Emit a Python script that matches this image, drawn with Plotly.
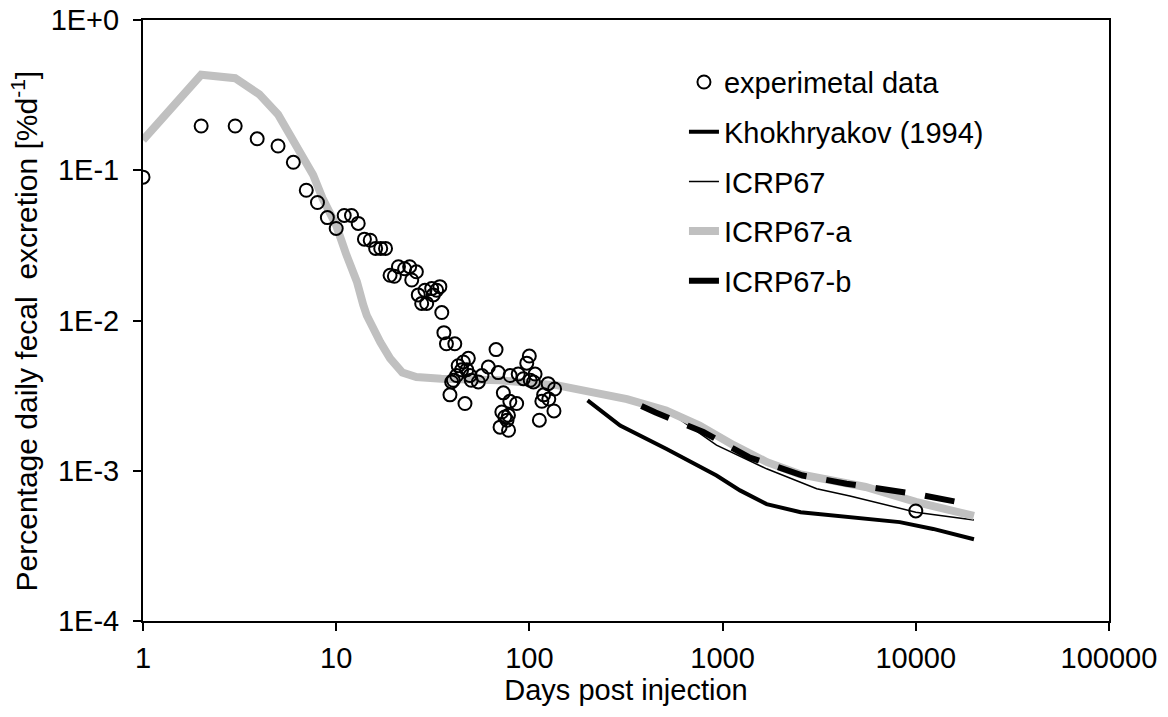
import plotly.graph_objects as go

# Experimental data
exp_days = [1, 2, 3, 3.9, 5, 6, 7, 8, 9, 10, 11, 12, 13, 14, 15, 16, 17, 18, 19, 20,
            21, 22.6, 24, 24.6, 26, 26.6, 27.7, 28.8, 29.4, 31.2, 31.8, 33.1, 34.4, 35.2,
            36.1, 37.2, 38.8, 39.6, 40.4, 41.1, 42.0, 42.8, 44.6, 45.5, 46.4, 47.4, 48.3,
            49.3, 50, 54.4, 56.8, 61.3, 67.2, 69.0, 70.5, 72, 73.3, 74.6, 76.6, 77.9, 78,
            79.2, 79.5, 85.9, 87.5, 93, 96.9, 99.9, 101, 105, 107, 112.6, 116, 118.5, 125,
            126, 134, 135, 10000]
exp_vals = [0.09, 0.197, 0.197, 0.162, 0.145, 0.113, 0.0736, 0.061, 0.0484, 0.041, 0.05,
            0.05, 0.0443, 0.0348, 0.0342, 0.0302, 0.0302, 0.0302, 0.020, 0.0197,
            0.0228, 0.0221, 0.0228, 0.0186, 0.0211, 0.0148, 0.013, 0.0159, 0.013, 0.0163,
            0.0148, 0.0159, 0.0168, 0.0113, 0.0083, 0.0070, 0.0032, 0.0039, 0.0040,
            0.0070, 0.0043, 0.0050, 0.0047, 0.0053, 0.0028, 0.0047, 0.0056, 0.0043,
            0.0040, 0.0039, 0.0043, 0.0049, 0.0064, 0.0045, 0.00195, 0.00246, 0.0033,
            0.00228, 0.00217, 0.00234, 0.00186, 0.0029, 0.0043, 0.0028, 0.0044, 0.0041,
            0.0052, 0.0058, 0.0040, 0.0039, 0.0044, 0.00217, 0.0029, 0.0032, 0.0038,
            0.0030, 0.0025, 0.0035, 0.00054]

# Khokhryakov (1994)
kh_days = [200, 295, 510, 930, 1230, 1690, 2535, 4560, 8260, 12300, 20000]
kh_vals = [0.00294, 0.0020, 0.0014, 0.00093, 0.00074, 0.00060, 0.00053, 0.00049,
           0.000455, 0.00041, 0.00035]

# ICRP67
icrp_days = [600, 930, 1690, 3070, 4560, 10000, 20000]
icrp_vals = [0.0022, 0.00148, 0.00103, 0.00076, 0.00068, 0.00053, 0.00047]

# ICRP67-a
a_days = [1, 2, 3, 4, 5, 6, 7, 7.6, 8.5, 9.3, 10, 11.3, 12.8, 13.8, 14.4, 16.9, 19, 22,
          26, 35, 70, 140, 230, 320, 510, 760, 1140, 1700, 2500, 4200, 5500, 10000, 20000]
a_vals = [0.159, 0.432, 0.41, 0.32, 0.235, 0.16, 0.115, 0.093, 0.065, 0.052, 0.043,
          0.0273, 0.0181, 0.0127, 0.0108, 0.0072, 0.0056, 0.0045, 0.0042, 0.0041,
          0.0040, 0.0037, 0.0033, 0.0030, 0.00252, 0.0020, 0.00148, 0.00114, 0.00095,
          0.00082, 0.00078, 0.00062, 0.00050]

# ICRP67-b
b_days = [380, 450, 795, 1370, 2600, 4380, 10000, 20000]
b_vals = [0.0027, 0.00244, 0.00181, 0.00123, 0.00093, 0.00082, 0.00070, 0.00059]

x_ticks = [1, 10, 100, 1000, 10000, 100000]
x_ticktext = ["1", "10", "100", "1000", "10000", "100000"]
y_ticks = [1e-4, 1e-3, 1e-2, 1e-1, 1]
y_ticktext = ["1E-4", "1E-3", "1E-2", "1E-1", "1E+0"]
y_title = "Percentage daily fecal  excretion [%d<sup>-1</sup>]"

FONT = "Liberation Sans, Arial, sans-serif"

fig = go.Figure()
fig.add_trace(go.Scatter(x=kh_days, y=kh_vals, mode="lines", name="Khokhryakov (1994)",
                         line=dict(color="black", width=4), legendgroup="g2", legendrank=2))
fig.add_trace(go.Scatter(x=icrp_days, y=icrp_vals, mode="lines", name="ICRP67",
                         line=dict(color="black", width=1.5), legendgroup="g3", legendrank=3))
fig.add_trace(go.Scatter(x=a_days, y=a_vals, mode="lines", name="ICRP67-a",
                         line=dict(color="#c0c0c0", width=8), legendgroup="g4", legendrank=4))
fig.add_trace(go.Scatter(x=b_days, y=b_vals, mode="lines", name="ICRP67-b",
                         line=dict(color="black", width=6, dash="30px,20px"),
                         legendgroup="g5", legendrank=5))
fig.add_trace(go.Scatter(x=exp_days, y=exp_vals, mode="markers", name="experimetal data",
                         marker=dict(symbol="circle-open", size=13, color="black",
                                     line=dict(width=2)),
                         legendgroup="g1", legendrank=1))

axis_common = dict(showline=True, linecolor="black", linewidth=2, mirror=True,
                   ticks="outside", ticklen=8, tickwidth=2, tickcolor="black",
                   showgrid=False, zeroline=False,
                   tickfont=dict(family=FONT, size=29, color="black"))

fig.update_xaxes(type="log", range=[0, 5], tickvals=x_ticks, ticktext=x_ticktext,
                 title=dict(text="Days post injection",
                            font=dict(family=FONT, size=29, color="black"), standoff=7),
                 ticklabelstandoff=2,
                 **axis_common)
fig.update_yaxes(type="log", range=[-4, 0], tickvals=y_ticks, ticktext=y_ticktext,
                 ticklabelstandoff=8,
                 **axis_common)

fig.add_annotation(text=y_title, textangle=-90, xref="paper", yref="paper",
                   x=-0.122, y=0.482, xanchor="center", yanchor="middle",
                   showarrow=False, font=dict(family=FONT, size=30, color="black"))

fig.update_layout(
    width=1168, height=717,
    margin=dict(l=143, r=59, t=20, b=96, autoexpand=False),
    paper_bgcolor="white", plot_bgcolor="white",
    font=dict(family=FONT, size=29, color="black"),
    legend=dict(x=0.56, y=0.939, xanchor="left", yanchor="top",
                bgcolor="rgba(0,0,0,0)", traceorder="grouped", tracegroupgap=9,
                font=dict(family=FONT, size=29, color="black")),
)

fig.write_html("out.html")
